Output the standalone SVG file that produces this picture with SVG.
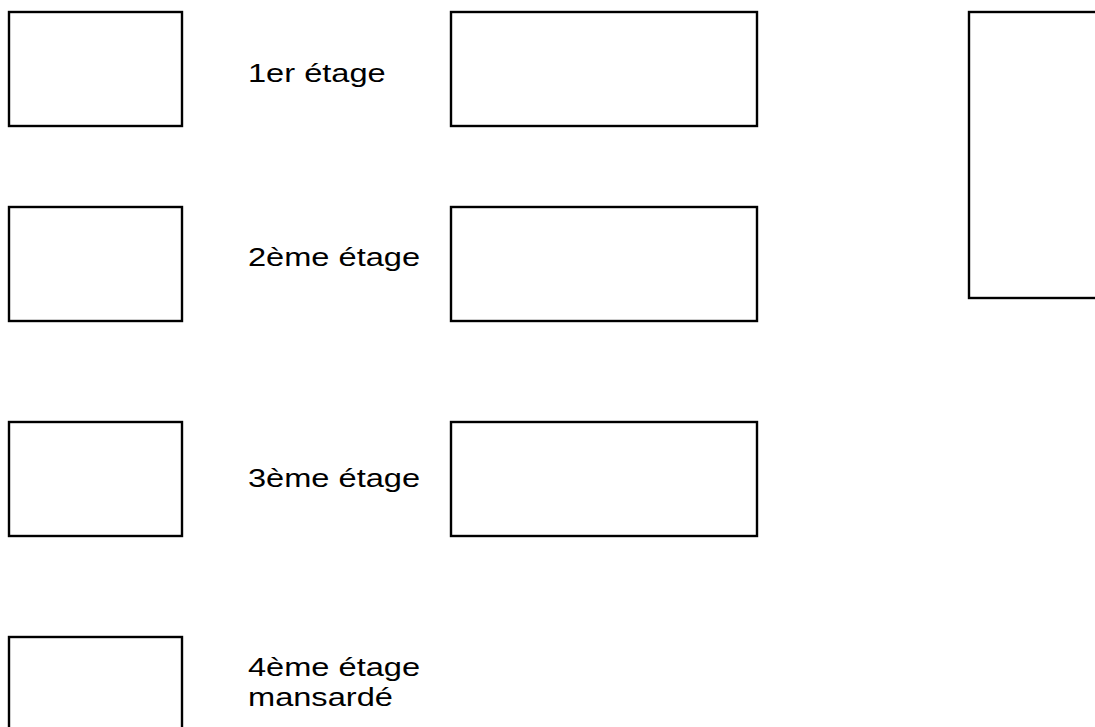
<svg xmlns="http://www.w3.org/2000/svg" width="1095" height="727" viewBox="0 0 1095 727">
<style>
.box{fill:#fff;stroke:#000;stroke-width:2.4}
.lbl{font-family:"Liberation Sans",Arial,sans-serif;font-size:26.5px;fill:#000}
</style>
<rect width="1095" height="727" fill="#fff"/>
<g id="r1-left"><rect class="box" x="9" y="12" width="173" height="114"/></g>
<g id="r1-right"><rect class="box" x="451" y="12" width="306" height="114"/></g>
<g id="tall-right"><rect class="box" x="969" y="12" width="150" height="286"/></g>
<g id="r2-left"><rect class="box" x="9" y="207" width="173" height="114"/></g>
<g id="r2-right"><rect class="box" x="451" y="207" width="306" height="114"/></g>
<g id="r3-left"><rect class="box" x="9" y="422" width="173" height="114"/></g>
<g id="r3-right"><rect class="box" x="451" y="422" width="306" height="114"/></g>
<g id="r4-left"><rect class="box" x="9" y="637" width="173" height="120"/></g>
<g id="labels">
<text class="lbl" transform="translate(248,82) scale(1.23,1)">1er étage</text>
<text class="lbl" transform="translate(248,266) scale(1.23,1)">2ème étage</text>
<text class="lbl" transform="translate(248,487) scale(1.23,1)">3ème étage</text>
<text class="lbl" transform="translate(248,676) scale(1.23,1)">4ème étage</text>
<text class="lbl" transform="translate(248,706) scale(1.23,1)">mansardé</text>
</g>
<g id="connectors"/>
</svg>
